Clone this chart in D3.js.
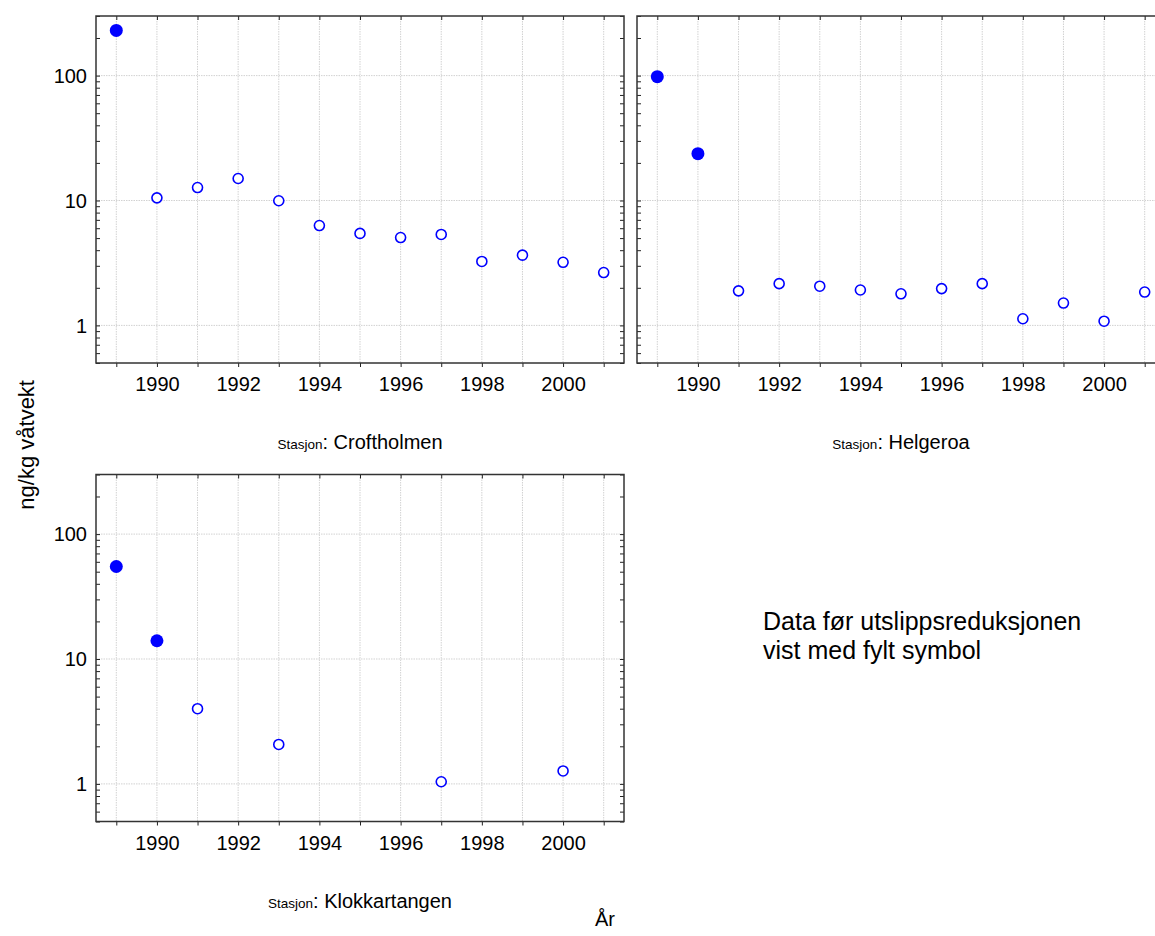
<!DOCTYPE html>
<html>
<head>
<meta charset="utf-8">
<script src="https://cdn.jsdelivr.net/npm/d3@7"></script>
<style>
  html, body { margin: 0; padding: 0; background: #fff; }
  svg { display: block; font-family: Arial, "Liberation Sans", sans-serif; }
</style>
</head>
<body>
<svg id="chart" width="1155" height="936"></svg>
<script>
// Sampling years and measured concentrations (ng/kg våtvekt) per station
const years = [1989, 1990, 1991, 1992, 1993, 1994, 1995, 1996, 1997, 1998, 1999, 2000, 2001];
const croftholmen = [230, 10.5, 12.7, 15.0, 9.95, 6.3, 5.45, 5.05, 5.35, 3.25, 3.65, 3.2, 2.65];
const helgeroa = [98, 23.7, 1.89, 2.16, 2.06, 1.92, 1.79, 1.97, 2.16, 1.13, 1.51, 1.08, 1.85];
const klokkartangenYears = [1989, 1990, 1991, 1993, 1997, 2000];
const klokkartangen = [55, 14, 4.0, 2.07, 1.04, 1.27];

// Last year before the emission reduction at each station (drawn filled)
const lastBeforeReduction = { Croftholmen: 1989, Helgeroa: 1990, Klokkartangen: 1990 };

// Axis ticks
const xLabelYears = [1990, 1992, 1994, 1996, 1998, 2000];
const yLabelValues = [1, 10, 100];
const xDomain = [1988.5, 2001.5];
const yDomain = [0.5, 300];

const stations = [
  { name: "Croftholmen", years: years, values: croftholmen, x0: 96, y0: 16, yLabels: true, titleY: 449 },
  { name: "Helgeroa", years: years, values: helgeroa, x0: 637, y0: 16, yLabels: false, titleY: 449 },
  { name: "Klokkartangen", years: klokkartangenYears, values: klokkartangen, x0: 96, y0: 474.5, yLabels: true, titleY: 908 }
];

const W = 528, H = 347;
const blue = "#0000ff";
const svg = d3.select("#chart");

const x = d3.scaleLinear().domain(xDomain).range([0, W]);
const y = d3.scaleLog().domain(yDomain).range([H, 0]);

// minor log ticks 0.5..300
const minorVals = [];
[0.1, 1, 10, 100].forEach(d => { for (let k = 1; k <= 9; k++) { const v = d * k; if (v >= 0.5 && v <= 300) minorVals.push(v); } });
const allYears = d3.range(1989, 2002);

stations.forEach(st => {
  const g = svg.append("g").attr("transform", `translate(${st.x0},${st.y0})`);

  // grid
  g.append("g").selectAll("line").data(allYears).join("line")
    .attr("x1", d => x(d)).attr("x2", d => x(d)).attr("y1", 0).attr("y2", H)
    .attr("stroke", "#d2d2d2").attr("stroke-width", 1).attr("stroke-dasharray", "1.5,1");
  g.append("g").selectAll("line").data(yLabelValues).join("line")
    .attr("x1", 0).attr("x2", W).attr("y1", d => y(d)).attr("y2", d => y(d))
    .attr("stroke", "#d2d2d2").attr("stroke-width", 1).attr("stroke-dasharray", "1.5,1");

  // bottom axis: outward ticks at every year, labels at even years
  const bottom = g.append("g").attr("transform", `translate(0,${H})`)
    .call(d3.axisBottom(x).tickValues(allYears).tickSize(4).tickPadding(10)
      .tickFormat(d => xLabelYears.includes(d) ? String(d) : ""));
  // top axis: inward ticks
  const top = g.append("g")
    .call(d3.axisBottom(x).tickValues(allYears).tickSize(4).tickFormat(""));
  // left axis: inward minor ticks
  const left = g.append("g")
    .call(d3.axisRight(y).tickValues(minorVals).tickSize(4).tickFormat(""));
  // right axis: inward minor ticks
  const right = g.append("g").attr("transform", `translate(${W},0)`)
    .call(d3.axisLeft(y).tickValues(minorVals).tickSize(4).tickFormat(""));

  if (st.yLabels) {
    g.append("g").selectAll("text").data(yLabelValues).join("text")
      .attr("x", -9).attr("y", d => y(d)).attr("dy", "0.36em")
      .attr("text-anchor", "end").attr("font-size", 20).attr("fill", "#000")
      .text(d => d);
  }

  [bottom, top, left, right].forEach(a => {
    a.select(".domain").remove();
    a.selectAll(".tick line").attr("stroke", "#222").attr("stroke-width", 1);
  });
  bottom.selectAll("text").attr("font-size", 20).attr("fill", "#000").attr("font-family", "Arial, 'Liberation Sans', sans-serif");

  // frame
  g.append("rect").attr("x", 0).attr("y", 0).attr("width", W).attr("height", H)
    .attr("fill", "none").attr("stroke", "#333").attr("stroke-width", 1.5);

  // points
  const pts = st.years.map((yr, i) => ({ yr, v: st.values[i], filled: yr <= lastBeforeReduction[st.name] }));
  g.append("g").selectAll("circle").data(pts).join("circle")
    .attr("cx", d => x(d.yr)).attr("cy", d => y(d.v))
    .attr("r", d => d.filled ? 6.5 : 5)
    .attr("fill", d => d.filled ? blue : "#fff")
    .attr("stroke", blue).attr("stroke-width", d => d.filled ? 0 : 1.6);

  // station title, centred under the panel
  const t = svg.append("text").attr("x", st.x0 + W / 2).attr("y", st.titleY)
    .attr("text-anchor", "middle").attr("fill", "#000");
  t.append("tspan").attr("font-size", 13.5).text("Stasjon");
  t.append("tspan").attr("font-size", 20).text(": " + st.name);
});

// axis titles
svg.append("text").attr("transform", "translate(34,380) rotate(-90)")
  .attr("text-anchor", "end").attr("font-size", 22).attr("fill", "#000").text("ng/kg våtvekt");
svg.append("text").attr("x", 605).attr("y", 926).attr("text-anchor", "middle")
  .attr("font-size", 20).attr("fill", "#000").text("År");

// note about symbols
const note = svg.append("text").attr("x", 763).attr("font-size", 25).attr("fill", "#000");
note.append("tspan").attr("x", 763).attr("y", 630).text("Data før utslippsreduksjonen");
note.append("tspan").attr("x", 763).attr("y", 659).text("vist med fylt symbol");
</script>
</body>
</html>
